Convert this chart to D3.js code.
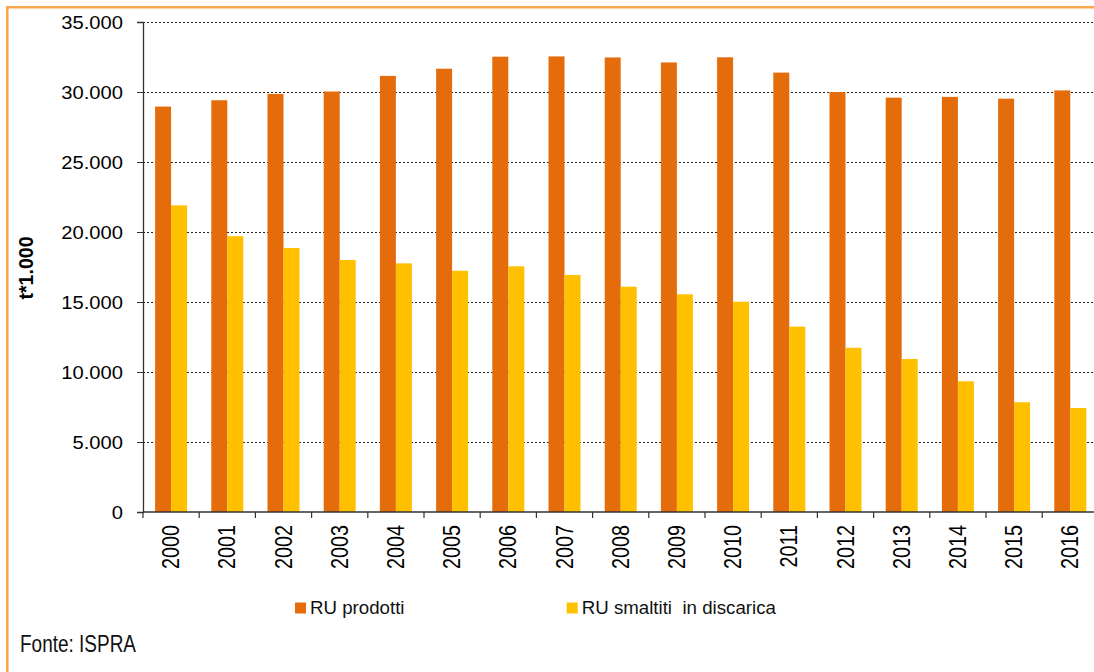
<!DOCTYPE html>
<html>
<head>
<meta charset="utf-8">
<script src="https://cdn.jsdelivr.net/npm/d3@7"></script>
<style>
  html, body { margin: 0; padding: 0; background: #fff; }
  svg { display: block; font-family: "Liberation Sans", Arial, sans-serif; }
</style>
</head>
<body>
<svg id="chart" width="1094" height="672"></svg>
<script>
const years = ["2000","2001","2002","2003","2004","2005","2006","2007","2008","2009","2010","2011","2012","2013","2014","2015","2016"];
const seriesNames = ["RU prodotti", "RU smaltiti in discarica"];
const ruProdotti = [28959, 29409, 29864, 30034, 31150, 31664, 32523, 32542, 32467, 32110, 32479, 31386, 29994, 29595, 29652, 29524, 30112];
const ruDiscarica = [21900, 19700, 18860, 18000, 17760, 17230, 17550, 16930, 16090, 15550, 15020, 13240, 11730, 10930, 9340, 7840, 7430];
const yTicks = [0, 5000, 10000, 15000, 20000, 25000, 30000, 35000];
const colors = ["#E46C0A", "#FFC000"];

(function () {
const svg = d3.select("#chart");
const pLeft = 143, pRight = 1098.4, pTop = 22, pBottom = 512;

const x = d3.scaleBand().domain(years).range([pLeft, pRight]).padding(0);
const xs = d3.scaleBand().domain(seriesNames).range([0, x.bandwidth()]).paddingInner(0).paddingOuter(0.756);
const y = d3.scaleLinear().domain([0, 35000]).range([pBottom, pTop]);
const loc = d3.formatLocale({decimal: ",", thousands: ".", grouping: [3], currency: ["", ""]});
const fmt = loc.format(",");

// border
svg.append("path").attr("d", `M7.3,672 L7.3,7.3 L1094,7.3`)
  .attr("fill", "none").attr("stroke", "#FAA74C").attr("stroke-width", 2.6);

// gridlines
svg.append("g").selectAll("line").data(yTicks.filter(d => d > 0)).join("line")
  .attr("x1", pLeft).attr("x2", 1094)
  .attr("y1", d => Math.round(y(d)) + 0.5).attr("y2", d => Math.round(y(d)) + 0.5)
  .attr("stroke", "#222").attr("stroke-width", 1).attr("stroke-dasharray", "2,2");

// bars
const data = years.map((yr, i) => ({year: yr, vals: [ruProdotti[i], ruDiscarica[i]]}));
const g = svg.append("g").selectAll("g").data(data).join("g")
  .attr("transform", d => `translate(${x(d.year)},0)`);
g.selectAll("rect").data(d => d.vals.map((v, k) => ({name: seriesNames[k], v, k}))).join("rect")
  .attr("x", d => xs(d.name)).attr("width", xs.bandwidth())
  .attr("y", d => y(d.v)).attr("height", d => y(0) - y(d.v))
  .attr("fill", d => colors[d.k]);

// y axis
const yAxis = svg.append("g").attr("transform", `translate(${pLeft},0)`)
  .call(d3.axisLeft(y).tickValues(yTicks).tickSize(6).tickFormat(fmt));
yAxis.select(".domain").attr("stroke", "#333").attr("stroke-width", 1.3);
yAxis.selectAll(".tick line").attr("stroke", "#333");
yAxis.selectAll(".tick text")
  .attr("x", null).attr("dy", "0.34em")
  .attr("transform", "translate(-20,0) scale(1.14,1)")
  .attr("font-size", "17.7px").attr("fill", "#000")
  .attr("font-family", "Liberation Sans, Arial, sans-serif");

// x axis line
svg.append("line").attr("x1", pLeft).attr("x2", 1094).attr("y1", pBottom).attr("y2", pBottom)
  .attr("stroke", "#333").attr("stroke-width", 1.3);
// x ticks at band boundaries
svg.append("g").selectAll("line").data(years).join("line")
  .attr("x1", d => x(d)).attr("x2", d => x(d))
  .attr("y1", pBottom).attr("y2", pBottom + 6)
  .attr("stroke", "#333").attr("stroke-width", 1.2);
// x labels
svg.append("g").selectAll("text").data(years).join("text")
  .attr("transform", d => `translate(${x(d) + x.bandwidth() / 2},525) rotate(-90) scale(1,1.17)`)
  .attr("text-anchor", "end").attr("dy", "0.35em")
  .attr("font-size", "19.8px").attr("fill", "#000")
  .text(d => d);

// y title
svg.append("text")
  .attr("transform", "translate(26,268) rotate(-90)")
  .attr("text-anchor", "middle").attr("dy", "0.35em")
  .attr("font-size", "19.6px").attr("font-weight", "bold").attr("fill", "#000")
  .text("t*1.000");

// legend
const legX = [295, 566.7];
const leg = svg.append("g").selectAll("g").data(seriesNames).join("g")
  .attr("transform", (d, i) => `translate(${legX[i]},0)`);
leg.append("rect").attr("x", 0).attr("y", 602.5).attr("width", 11).attr("height", 11)
  .attr("fill", (d, i) => colors[i]);
leg.append("text").attr("x", 15).attr("y", 614)
  .attr("font-size", "18.7px").attr("fill", "#111")
  .style("white-space", "pre")
  .text(d => d.replace(" in ", "  in "));

// source
svg.append("text").attr("x", 20).attr("y", 652)
  .attr("font-size", "23px").attr("fill", "#111")
  .attr("textLength", 116).attr("lengthAdjust", "spacingAndGlyphs")
  .text("Fonte: ISPRA");
})();
</script>
</body>
</html>
